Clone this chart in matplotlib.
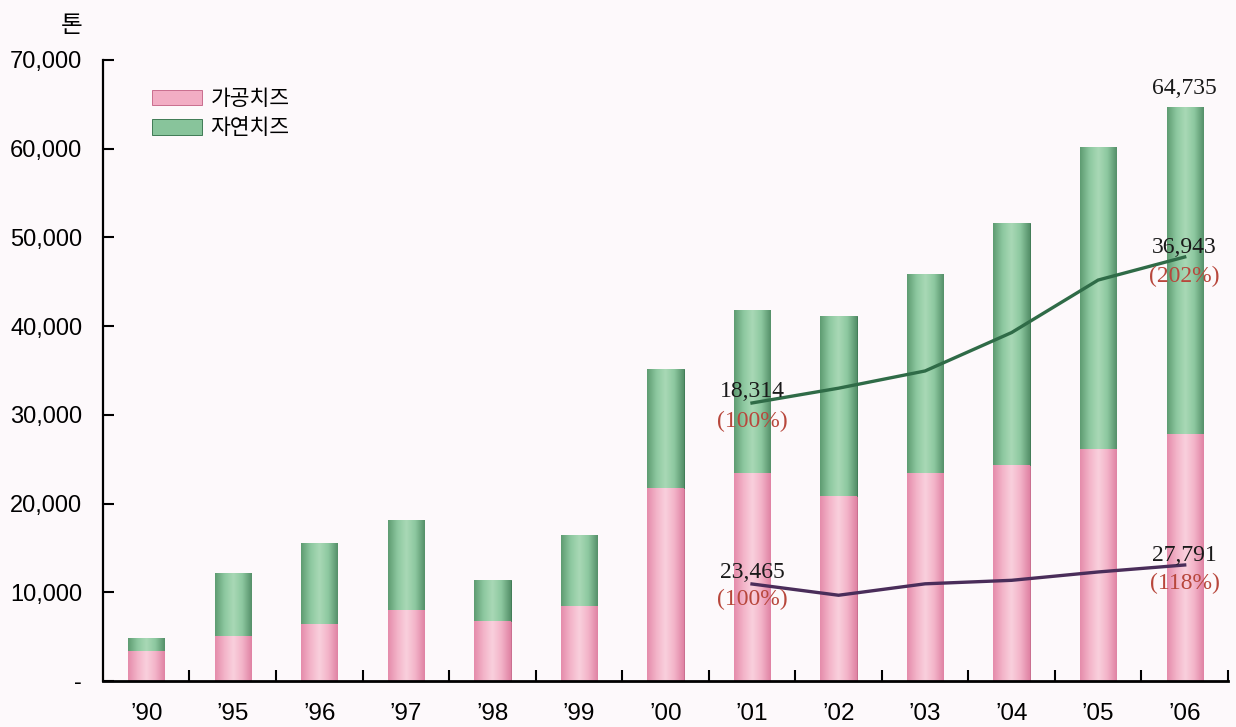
import matplotlib
matplotlib.use('Agg')
import matplotlib.pyplot as plt
import numpy as np
from matplotlib.font_manager import FontProperties
from matplotlib.colors import LinearSegmentedColormap

# data (tonnes)
years = ['’90', '’95', '’96', '’97', '’98', '’99', '’00', '’01', '’02', '’03', '’04', '’05', '’06']
processed = [3400, 5100, 6400, 8000, 6800, 8500, 21700, 23465, 20900, 23500, 24300, 26200, 27791]
natural = [1400, 7100, 9200, 10100, 4600, 7900, 13500, 18314, 20200, 22400, 27300, 34000, 36943]
series_names = ['가공치즈', '자연치즈']
y_ticks = [0, 10000, 20000, 30000, 40000, 50000, 60000, 70000]
line_start = 7  # index lines start from ('01)
total_label = '64,735'

bg = '#fdf9fb'
pink = '#f2adc4'
pink_edge = '#c96d8e'
green = '#88c49b'
green_edge = '#3f7a55'
serif = 'Liberation Serif'
sans = 'Liberation Sans'
kr = FontProperties(family='Noto Sans CJK KR', size=15.5)

# cylinder-like shading for the bars
pink_cmap = LinearSegmentedColormap.from_list('p', ['#e58cab', '#f3b3c8', '#f9d0dd', '#f3b3c8', '#e083a4'])
green_cmap = LinearSegmentedColormap.from_list('g', ['#5e9c72', '#8cc79f', '#a9d9b6', '#8cc79f', '#55906a'])

fig = plt.figure(figsize=(12.36, 7.27), dpi=100, facecolor=bg)
ax = fig.add_axes([0.0833, 0.0633, 0.9102, 0.8542])
ax.set_facecolor(bg)

x = np.arange(len(years))
b1 = ax.bar(x, processed, width=0.42, color=pink, edgecolor=pink_edge, linewidth=0.7)
b2 = ax.bar(x, natural, bottom=processed, width=0.42, color=green, edgecolor=green_edge, linewidth=0.7)

grad = np.linspace(0, 1, 64).reshape(1, -1)
for bars, cmap in [(b1, pink_cmap), (b2, green_cmap)]:
    for r in bars:
        x0, y0, w, h = r.get_x(), r.get_y(), r.get_width(), r.get_height()
        im = ax.imshow(grad, cmap=cmap, aspect='auto', extent=(x0, x0 + w, y0, y0 + h),
                       interpolation='bicubic', zorder=r.get_zorder() + 0.1)
        im.set_clip_path(r)

ax.set_xlim(-0.5, len(years) - 0.5)
ax.set_ylim(0, 70000)
for s in ['top', 'right']:
    ax.spines[s].set_visible(False)
ax.spines['left'].set_linewidth(1.6)
ax.spines['bottom'].set_linewidth(2.0)

ax.set_yticks(y_ticks)
ax.set_yticklabels(['-' if v == 0 else f'{v:,}' for v in y_ticks], family=sans)
ax.tick_params(axis='y', direction='in', length=8, width=1.5, pad=15, labelsize=17)

ax.set_xticks(x)
ax.set_xticklabels(years, family=sans)
ax.tick_params(axis='x', which='major', length=0, pad=16, labelsize=17.5)
ax.set_xticks(np.arange(0.5, len(years), 1), minor=True)
ax.tick_params(axis='x', which='minor', direction='in', length=8, width=1.5)

leg = ax.legend([b1, b2], series_names, loc='upper left', bbox_to_anchor=(0.044, 0.955),
                frameon=False, prop=kr, handlelength=2.3, handleheight=0.75,
                labelspacing=0.35, handletextpad=0.4, borderpad=0, borderaxespad=0)

fig.text(72 / 1236, 1 - 25 / 727, '톤', ha='center', va='center',
         family='Noto Sans CJK KR', size=17)

# total label over the last bar
ax.annotate(total_label, (x[-1], processed[-1] + natural[-1]), xytext=(0, 13),
            textcoords='offset points', ha='center', va='center',
            family=serif, size=17, color='#1a1a1a')

# trend lines drawn on their own hidden scales
axn = ax.twinx()
axn.set_ylim(-17158, 62080)
axn.axis('off')
axp = ax.twinx()
axp.set_ylim(1380, 142768)
axp.axis('off')

xs = x[line_start:]
nat_line = natural[line_start:]
pro_line = processed[line_start:]
axn.plot(xs, nat_line, color='#2f6b47', lw=2.4)
axp.plot(xs, pro_line, color='#4a2d5a', lw=2.4)


def label_point(axis, xi, v, base, up, down):
    pct = round(v / base * 100)
    axis.annotate(f'{v:,}', (xi, v), xytext=(0, up), textcoords='offset points',
                  ha='center', va='center', family=serif, size=17, color='#1a1a1a')
    axis.annotate(f'({pct}%)', (xi, v), xytext=(0, down), textcoords='offset points',
                  ha='center', va='center', family=serif, size=17, color='#b8473c')


label_point(axn, xs[0], nat_line[0], nat_line[0], 8, -13)
label_point(axn, xs[-1], nat_line[-1], nat_line[0], 7, -14)
label_point(axp, xs[0], pro_line[0], pro_line[0], 8, -11.5)
label_point(axp, xs[-1], pro_line[-1], pro_line[0], 6.5, -13)

fig.savefig('out.png', dpi=100, facecolor=bg)
